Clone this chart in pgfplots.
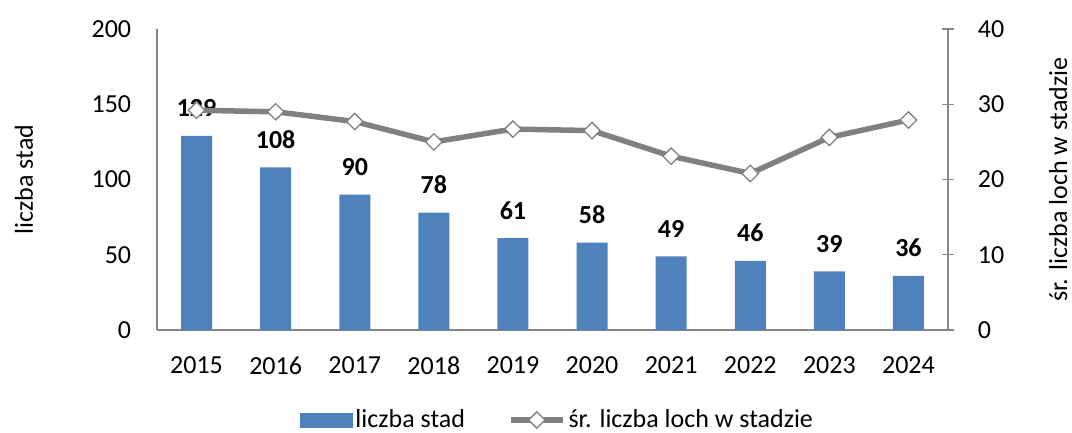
\documentclass[border=0pt]{standalone}
\usepackage{fontspec}
\setmainfont{Carlito}
\usepackage{pgfplots}
\pgfplotsset{compat=1.18}
\definecolor{barblue}{RGB}{79,129,189}
\definecolor{linegray}{RGB}{128,128,128}
\definecolor{axgray}{RGB}{134,134,134}
\newcommand{\bigf}{\fontsize{26}{31}\selectfont}
\pgfplotsset{
  mylinelegend/.style={legend image code/.code={\draw[mark repeat=2,mark phase=2,##1] plot coordinates {(0pt,0pt) (26pt,0pt) (52pt,0pt)};}},
  mybarlegend/.style={legend image code/.code={\fill[barblue] (0pt,-7pt) rectangle (52pt,7pt);}},
}
\begin{document}
\bigf
\begin{tikzpicture}
\useasboundingbox (0,0) rectangle (1072pt,432pt);
\begin{axis}[
  at={(157pt,102pt)}, anchor=south west,
  scale only axis, width=791pt, height=301pt,
  xmin=-0.5, xmax=9.5, ymin=0, ymax=200,
  axis x line*=bottom, axis y line*=left,
  axis line style={draw=axgray, line width=1.3pt, -},
  xtick={0,1,2,3,4,5,6,7,8,9},
  xticklabels={2015,2016,2017,2018,2019,2020,2021,2022,2023,2024},
  ytick={0,50,100,150,200},
  major tick length=0pt,
  /pgf/number format/assume math mode=true,
  ticklabel style={font=\bigf},
  xticklabel style={yshift=-18pt},
  yticklabel style={xshift=-17pt},
  ylabel={liczba stad},
  ylabel style={at={(axis description cs:-0.1568,0.5)}, anchor=base, font=\bigf},
  ybar, bar width=31pt,
  nodes near coords,
  nodes near coords style={font=\bfseries\bigf, yshift=10pt},
  clip=false,
]
\addplot[fill=barblue, draw=none] coordinates {(0,129) (1,108) (2,90) (3,78) (4,61) (5,58) (6,49) (7,46) (8,39) (9,36)};
\end{axis}
\begin{axis}[
  at={(157pt,102pt)}, anchor=south west,
  scale only axis, width=791pt, height=301pt,
  xmin=-0.5, xmax=9.5, ymin=0, ymax=40,
  axis x line=none, axis y line*=right,
  axis line style={draw=axgray, line width=1.3pt, -},
  ytick={0,10,20,30,40},
  major tick length=12pt, tick align=center,
  tick style={draw=axgray, line width=1.3pt},
  /pgf/number format/assume math mode=true,
  ticklabel style={font=\bigf},
  yticklabel style={xshift=15pt},
  ylabel={śr. liczba loch w stadzie},
  ylabel style={at={(axis description cs:1.1505,0.5)}, anchor=base, font=\bigf},
  clip=false,
  legend columns=2,
  legend style={at={(0.507,-0.299)}, anchor=center, draw=none, fill=none, font=\bigf,
    /tikz/every even column/.append style={column sep=40pt},
    nodes={inner xsep=3pt}},
]
\addlegendimage{mybarlegend}
\addlegendentry{liczba stad}
\addplot[draw=linegray, line width=5.5pt, mark=square*, mark size=5.8pt,
  mark options={rotate=45, fill=white, draw=linegray, line width=1.3pt, solid},
  mylinelegend]
  coordinates {(0,29.2) (1,29.0) (2,27.7) (3,25.0) (4,26.7) (5,26.5) (6,23.1) (7,20.8) (8,25.6) (9,27.9)};
\addlegendentry{śr. liczba loch w stadzie}
\end{axis}
\end{tikzpicture}
\end{document}
